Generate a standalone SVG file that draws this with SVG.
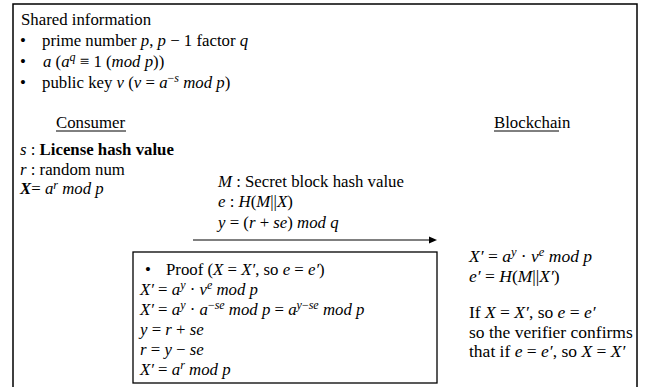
<svg xmlns="http://www.w3.org/2000/svg" width="645" height="387" viewBox="0 0 645 387">
<rect width="645" height="387" fill="#fff"/>
<g id="frame"><rect x="13" y="4" width="624" height="400" fill="#fff" stroke="#000" stroke-width="1.5"/></g>
<g id="shared">
<text font-family="Liberation Serif" font-size="16.8" x="21" y="25">Shared information</text>
<text font-family="Liberation Serif" font-size="16.8" x="20" y="46">•<tspan x="42">prime number </tspan><tspan font-style="italic">p</tspan>, <tspan font-style="italic">p</tspan> − 1  factor <tspan font-style="italic">q</tspan></text>
<text font-family="Liberation Serif" font-size="16.8" x="20" y="67">•<tspan x="43" font-style="italic">a </tspan>(<tspan font-style="italic">a</tspan><tspan font-style="italic" font-size="12" dy="-6">q</tspan><tspan dy="6">  ≡ 1 (</tspan><tspan font-style="italic">mod p</tspan>))</text>
<text font-family="Liberation Serif" font-size="16.8" x="20" y="88">•<tspan x="42">public key </tspan><tspan font-style="italic">v</tspan> (<tspan font-style="italic">v</tspan>  =  <tspan font-style="italic">a</tspan><tspan font-size="12" dy="-6">−</tspan><tspan font-style="italic" font-size="12">s</tspan><tspan dy="6" font-style="italic"> mod p</tspan>)</text>
</g>
<g id="consumer">
<text font-family="Liberation Serif" font-size="16.8" x="56" y="128">Consumer</text>
<line x1="56" y1="131" x2="126" y2="131" stroke="#000" stroke-width="1"/>
<text font-family="Liberation Serif" font-size="16.8" x="20" y="155"><tspan font-style="italic">s</tspan> : <tspan font-weight="bold">License hash value</tspan></text>
<text font-family="Liberation Serif" font-size="16.8" x="20" y="175"><tspan font-style="italic">r</tspan> : random num</text>
<text font-family="Liberation Serif" font-size="16.8" x="20" y="194"><tspan font-style="italic" font-weight="bold">X</tspan>= <tspan font-style="italic">a</tspan><tspan font-style="italic" font-size="12" dy="-5">r</tspan><tspan font-style="italic" dy="5"> mod p</tspan></text>
</g>
<g id="blockchain">
<text font-family="Liberation Serif" font-size="16.8" x="494" y="128">Blockchain</text>
<line x1="494" y1="131" x2="559" y2="131" stroke="#000" stroke-width="1"/>
<text font-family="Liberation Serif" font-size="17.5" x="469" y="262"><tspan font-style="italic">X′</tspan>  =   <tspan font-style="italic">a</tspan><tspan font-style="italic" font-size="12.5" dy="-6">y</tspan><tspan dy="6">  ·  </tspan><tspan font-style="italic">v</tspan><tspan font-style="italic" font-size="12.5" dy="-6">e</tspan><tspan font-style="italic" dy="6"> mod p</tspan></text>
<text font-family="Liberation Serif" font-size="17.5" x="469" y="282"><tspan font-style="italic">e′</tspan>  =  <tspan font-style="italic">H</tspan>(<tspan font-style="italic">M</tspan>||<tspan font-style="italic">X′</tspan>)</text>
<text font-family="Liberation Serif" font-size="17.5" x="469" y="318">If <tspan font-style="italic">X</tspan> = <tspan font-style="italic">X′</tspan>, so <tspan font-style="italic">e</tspan> = <tspan font-style="italic">e′</tspan></text>
<text font-family="Liberation Serif" font-size="17.5" x="469" y="338">so the verifier confirms</text>
<text font-family="Liberation Serif" font-size="17.5" x="469" y="357">that if <tspan font-style="italic">e</tspan> = <tspan font-style="italic">e′</tspan>, so <tspan font-style="italic">X</tspan> = <tspan font-style="italic">X′</tspan></text>
</g>
<g id="message">
<text font-family="Liberation Serif" font-size="16.8" x="218" y="187"><tspan font-style="italic">M</tspan> : Secret block hash value</text>
<text font-family="Liberation Serif" font-size="16.8" x="218" y="207"><tspan font-style="italic">e</tspan> : <tspan font-style="italic">H</tspan>(<tspan font-style="italic">M</tspan>||<tspan font-style="italic">X</tspan>)</text>
<text font-family="Liberation Serif" font-size="16.8" x="218" y="228"><tspan font-style="italic">y</tspan> = (<tspan font-style="italic">r</tspan> + <tspan font-style="italic">se</tspan>) <tspan font-style="italic">mod q</tspan></text>
</g>
<g id="connectors">
<line x1="193" y1="240" x2="430" y2="240" stroke="#000" stroke-width="1"/>
<polygon points="429,236.5 437,240 429,243.5" fill="#000"/>
</g>
<g id="proof">
<rect x="133" y="252" width="304" height="131" fill="#fff" stroke="#000" stroke-width="1.3"/>
<text font-family="Liberation Serif" font-size="16.8" x="145" y="275">•<tspan x="166">Proof (</tspan><tspan font-style="italic">X</tspan> = <tspan font-style="italic">X′</tspan>, so <tspan font-style="italic">e</tspan> = <tspan font-style="italic">e′</tspan>)</text>
<text font-family="Liberation Serif" font-size="16.8" x="140" y="295"><tspan font-style="italic">X′</tspan> = <tspan font-style="italic">a</tspan><tspan font-style="italic" font-size="12" dy="-6">y</tspan><tspan dy="6"> · </tspan><tspan font-style="italic">v</tspan><tspan font-style="italic" font-size="12" dy="-6">e</tspan><tspan font-style="italic" dy="6"> mod p</tspan></text>
<text font-family="Liberation Serif" font-size="16.8" x="140" y="315"><tspan font-style="italic">X′</tspan> = <tspan font-style="italic">a</tspan><tspan font-style="italic" font-size="12" dy="-6">y</tspan><tspan dy="6"> · </tspan><tspan font-style="italic">a</tspan><tspan font-size="12" dy="-6">−</tspan><tspan font-style="italic" font-size="12">se</tspan><tspan font-style="italic" dy="6"> mod p</tspan>  = <tspan font-style="italic">a</tspan><tspan font-style="italic" font-size="12" dy="-6">y</tspan><tspan font-size="12">−</tspan><tspan font-style="italic" font-size="12">se</tspan><tspan font-style="italic" dy="6"> mod p</tspan></text>
<text font-family="Liberation Serif" font-size="16.8" x="140" y="335"><tspan font-style="italic">y</tspan> = <tspan font-style="italic">r</tspan> + <tspan font-style="italic">se</tspan></text>
<text font-family="Liberation Serif" font-size="16.8" x="140" y="355"><tspan font-style="italic">r</tspan> = <tspan font-style="italic">y</tspan> − <tspan font-style="italic">se</tspan></text>
<text font-family="Liberation Serif" font-size="16.8" x="140" y="375"><tspan font-style="italic">X′</tspan> =  <tspan font-style="italic">a</tspan><tspan font-style="italic" font-size="12" dy="-6">r</tspan><tspan font-style="italic" dy="6"> mod p</tspan></text>
</g>
</svg>
